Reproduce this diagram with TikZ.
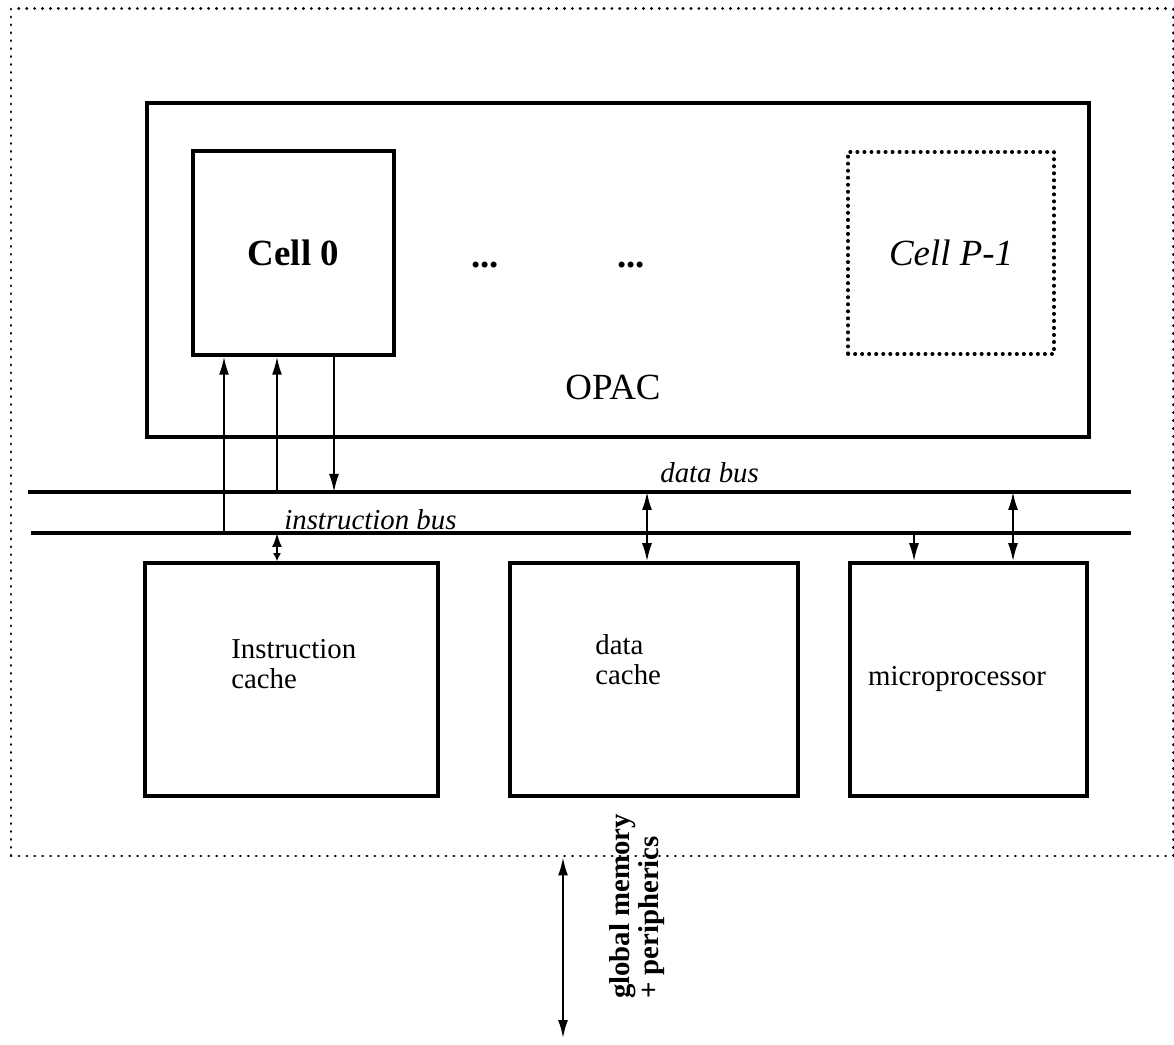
\documentclass[tikz,border=0pt]{standalone}
\usepackage{fontspec}
\setmainfont{Liberation Serif}
\usetikzlibrary{positioning,arrows.meta,calc}

\begin{document}
\begin{tikzpicture}[
  >={Latex[length=3.6mm,width=2mm]},
  board/.style={draw,line width=1.7pt,dash pattern=on 0.1pt off 4.4pt,line cap=round,inner sep=0pt},
  unit/.style={draw,line width=2pt,inner sep=0pt},
  ghost/.style={draw,line width=2.2pt,dash pattern=on 0.1pt off 3.9pt,line cap=round,inner sep=0pt},
  bus/.style={line width=1.8pt},
  wire/.style={line width=1.1pt},
  txt/.style={font=\fontsize{16.4}{17}\selectfont,inner sep=0pt},
  big/.style={font=\fontsize{21}{24}\selectfont},
  buslab/.style={font=\fontsize{16.4}{17}\selectfont\itshape,inner sep=0pt},
  glab/.style={font=\fontsize{16.4}{16.6}\selectfont\bfseries,inner sep=0pt}
]
\useasboundingbox (0,0) rectangle (23.48,20.88);

% Board (dotted frame)
\node[board,minimum width=23.24cm,minimum height=16.94cm] (board) at (11.84,12.23) {};

% OPAC with its cells
\node[unit,minimum width=18.84cm,minimum height=6.68cm] (opac) at (12.36,15.48) {};
\node[unit,big,minimum width=4.02cm,minimum height=4.08cm] (cell0) at (5.87,15.82) {\bfseries Cell 0};
\node[ghost,big,minimum width=4.12cm,minimum height=4.04cm] (cellp) at (19.02,15.82) {\itshape Cell P-1};
\node[big,anchor=base,inner sep=0pt] (dotsa) at (9.70,15.52) {\bfseries ...};
\node[big,anchor=base,inner sep=0pt] (dotsb) at (12.62,15.52) {\bfseries ...};
\node[big,anchor=base,inner sep=0pt] (opaclab) at (12.26,12.88) {OPAC};

% Buses
\coordinate (dbw) at (0.56,11.04);
\coordinate (dbe) at (22.62,11.04);
\coordinate (ibw) at (0.62,10.22);
\coordinate (ibe) at (22.62,10.22);
\draw[bus] (dbw) -- (dbe);
\draw[bus] (ibw) -- (ibe);
\node[buslab,anchor=base west] (dblab) at (13.20,11.22) {data bus};
\node[buslab,anchor=base west] (iblab) at (5.68,10.28) {instruction bus};

% Caches and microprocessor
\node[unit,minimum width=5.86cm,minimum height=4.66cm] (icache) at (5.83,7.29) {};
\node[unit,minimum width=5.76cm,minimum height=4.66cm] (dcache) at (13.08,7.29) {};
\node[unit,minimum width=4.74cm,minimum height=4.66cm] (mproc) at (19.37,7.29) {};
\node[txt,align=left,anchor=west] (icachelab) at (4.62,7.60) {Instruction\\cache};
\node[txt,align=left,anchor=west] (dcachelab) at (11.90,7.69) {data\\cache};
\node[txt,anchor=base] (mproclab) at (19.14,7.16) {microprocessor};

% Links
\coordinate (xa) at (4.48,0);
\coordinate (xb) at (5.54,0);
\coordinate (xc) at (6.68,0);
\coordinate (xd) at (12.94,0);
\coordinate (xe) at (18.28,0);
\coordinate (xf) at (20.26,0);
\draw[wire,->] (xa |- ibw) -- (xa |- cell0.south);
\draw[wire,->] (xb |- dbw) -- (xb |- cell0.south);
\draw[wire,->] (xc |- cell0.south) -- (xc |- dbw);
\draw[wire,{Latex[length=2.8mm,width=2mm]}-{Latex[length=1.6mm,width=1.6mm]}] (xb |- ibw) -- (xb |- icache.north);
\draw[wire,<->] (xd |- dbw) -- (xd |- dcache.north);
\draw[wire,->] (xe |- ibw) -- (xe |- mproc.north);
\draw[wire,<->] (xf |- dbw) -- (xf |- mproc.north);

% Global memory link
\coordinate (gm) at (11.26,0.12);
\draw[wire,<->] (gm |- board.south) -- (gm);
\node[glab,rotate=90,align=left] (gmlab) at (12.74,2.75) {global memory\\+ peripherics};

\end{tikzpicture}
\end{document}
